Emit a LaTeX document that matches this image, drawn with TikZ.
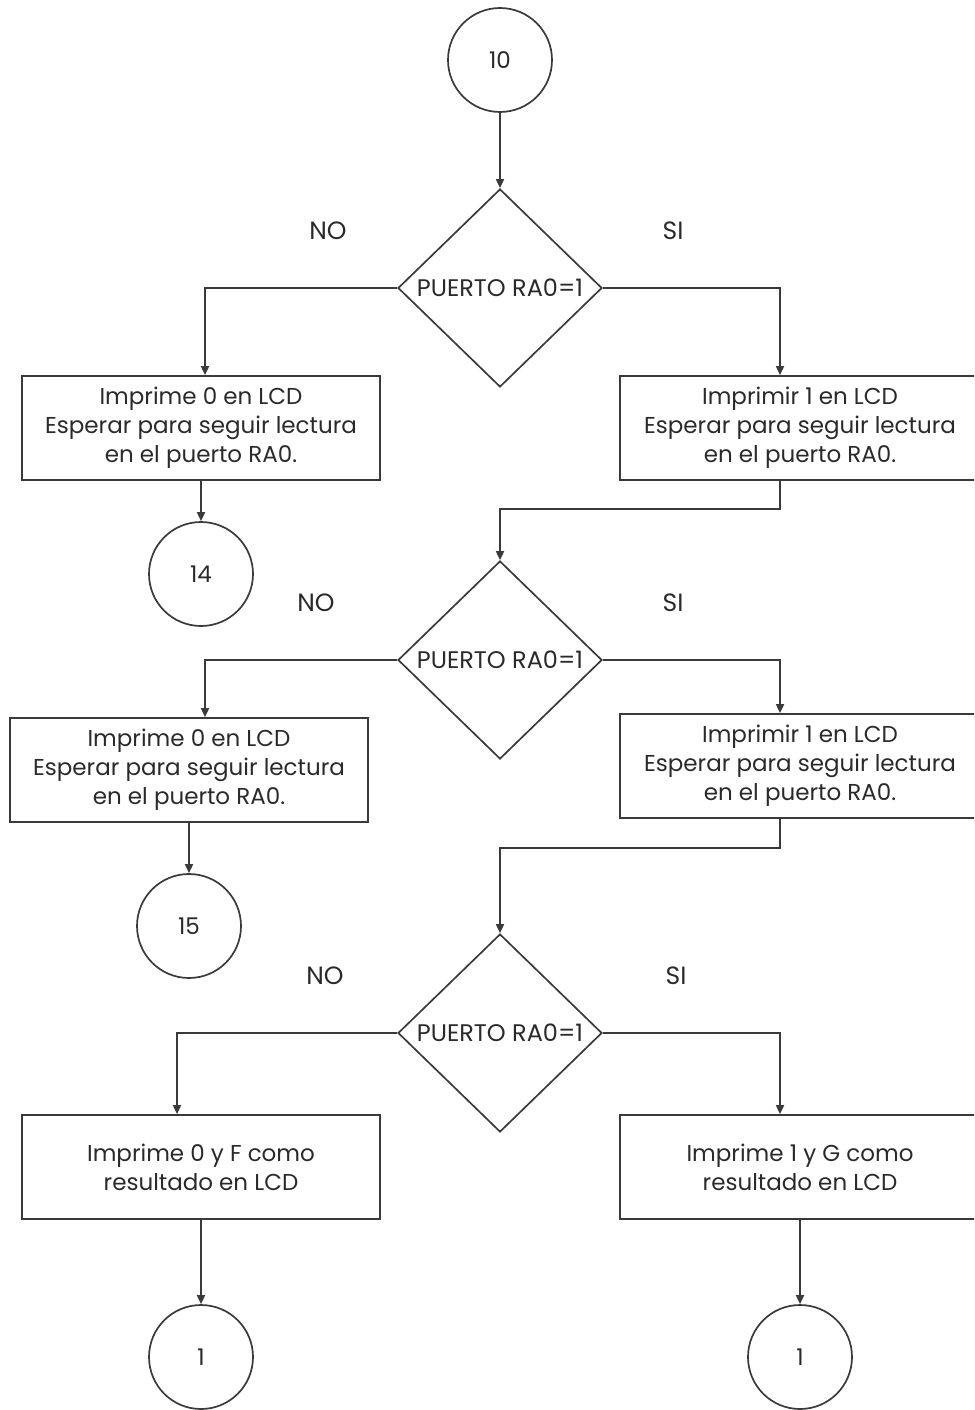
\documentclass[tikz,border=0pt]{standalone}
\usepackage{fontspec}
\setmainfont{Poppins}
\usetikzlibrary{arrows.meta,calc,shapes.geometric}
\definecolor{ln}{HTML}{3A3A3A}
\definecolor{tx}{HTML}{2A2A2A}
\begin{document}
\begin{tikzpicture}[x=1pt,y=-1pt,
  every node/.style={text=tx,font=\fontsize{23}{29}\selectfont},
  conn/.style={circle,draw=ln,line width=1.7pt,minimum size=104pt,inner sep=0pt},
  dec/.style={diamond,draw=ln,line width=1.7pt,minimum width=204pt,minimum height=198pt,inner sep=0pt},
  dectext/.style={font=\fontsize{24}{29}\selectfont,inner sep=0pt},
  proc/.style={rectangle,draw=ln,line width=1.7pt,minimum width=358pt,minimum height=104pt,inner sep=0pt,align=center},
  flow/.style={draw=ln,line width=1.7pt,-{Triangle[length=9pt,width=8pt]}},
  lbl/.style={inner sep=0pt,font=\fontsize{25}{29}\selectfont}]
\useasboundingbox (0,0) rectangle (974,1410);
\clip (0,0) rectangle (974,1410);
% nodes
\node[conn] (c10) at (500,60) {10};
\node[dec] (d1) at (500,288) {};
\node[dectext] (t1) at (d1.center) {PUERTO RA0=1};
\node[lbl] (no1) at (328,231) {NO};
\node[lbl] (si1) at (673,231) {SI};
\node[proc] (b1l) at (201,428) {Imprime 0 en LCD\\Esperar para seguir lectura\\en el puerto RA0.};
\node[proc,minimum width=360pt] (b1r) at (800,428) {Imprimir 1 en LCD\\Esperar para seguir lectura\\en el puerto RA0.};
\node[conn] (c14) at (201,574) {14};
\node[dec] (d2) at (500,660) {};
\node[dectext] (t2) at (d2.center) {PUERTO RA0=1};
\node[lbl] (no2) at (316,603) {NO};
\node[lbl] (si2) at (673,603) {SI};
\node[proc] (b2l) at (189,770) {Imprime 0 en LCD\\Esperar para seguir lectura\\en el puerto RA0.};
\node[proc,minimum width=360pt] (b2r) at (800,766) {Imprimir 1 en LCD\\Esperar para seguir lectura\\en el puerto RA0.};
\node[conn] (c15) at (189,926) {15};
\node[dec] (d3) at (500,1033) {};
\node[dectext] (t3) at (d3.center) {PUERTO RA0=1};
\node[lbl] (no3) at (325,976) {NO};
\node[lbl] (si3) at (676,976) {SI};
\node[proc] (b3l) at (201,1167) {Imprime 0 y F como\\resultado en LCD};
\node[proc,minimum width=360pt] (b3r) at (800,1167) {Imprime 1 y G como\\resultado en LCD};
\node[conn] (c1l) at (201,1357) {1};
\node[conn] (c1r) at (800,1357) {1};
% connectors
\draw[flow] (c10) -- (d1.north);
\draw[flow] (d1.west) -| ([xshift=4pt]b1l.north);
\draw[flow] (d1.east) -| ([xshift=-20pt]b1r.north);
\draw[flow] (b1l.south) -- (c14.north);
\draw[flow] ([xshift=-20pt]b1r.south) -- ++(0,28) -| (d2.north);
\draw[flow] (d2.west) -| ([xshift=16pt]b2l.north);
\draw[flow] (d2.east) -| ([xshift=-20pt]b2r.north);
\draw[flow] (b2l.south) -- (c15.north);
\draw[flow] ([xshift=-20pt]b2r.south) -- ++(0,29) -| (d3.north);
\draw[flow] (d3.west) -| ([xshift=-24pt]b3l.north);
\draw[flow] (d3.east) -| ([xshift=-20pt]b3r.north);
\draw[flow] (b3l.south) -- (c1l.north);
\draw[flow] (b3r.south) -- (c1r.north);
\end{tikzpicture}
\end{document}
